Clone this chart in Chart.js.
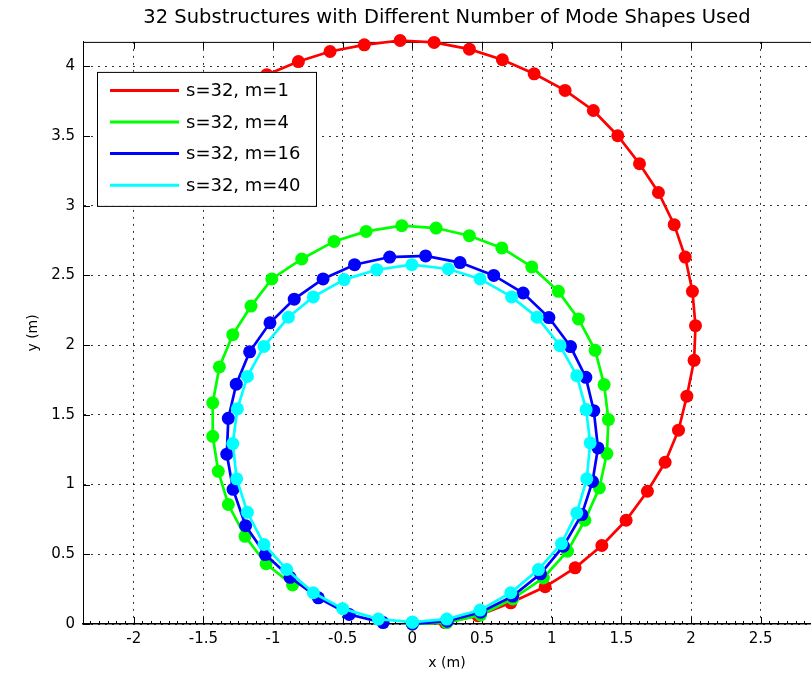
<!DOCTYPE html>
<html>
<head>
<meta charset="utf-8">
<title>Substructure mode shapes</title>
<script src="https://cdn.jsdelivr.net/npm/chart.js@4.4.0/dist/chart.umd.min.js"></script>
<style>
  html, body { margin: 0; padding: 0; background: #fff; overflow: hidden; }
  canvas { display: block; }
</style>
</head>
<body>
<canvas id="modeChart" width="811" height="690"></canvas>
<script>
// node positions of the curled beam (33 nodes, 32 substructures) for each mode count
const seriesLabels = ['s=32, m=1', 's=32, m=4', 's=32, m=16', 's=32, m=40'];
const seriesColors = ['#ff0000', '#00ff00', '#0000ff', '#00ffff'];

const m1X = [0, 0.235, 0.47, 0.706, 0.953, 1.168, 1.36, 1.534, 1.687, 1.814, 1.91, 1.97, 2.022,
  2.032, 2.01, 1.958, 1.879, 1.766, 1.63, 1.474, 1.299, 1.096, 0.874, 0.646, 0.409, 0.156,
  -0.088, -0.345, -0.591, -0.818, -1.045, -1.26, -1.45];
const m1Y = [0, 0.01, 0.06, 0.152, 0.267, 0.403, 0.563, 0.744, 0.952, 1.16, 1.39, 1.634, 1.891,
  2.14, 2.386, 2.632, 2.864, 3.095, 3.301, 3.502, 3.683, 3.827, 3.946, 4.047, 4.123, 4.171,
  4.185, 4.154, 4.106, 4.034, 3.94, 3.81, 3.66];

const m4X = [0, 0.247, 0.49, 0.72, 0.94, 1.113, 1.238, 1.342, 1.396, 1.407, 1.376, 1.312, 1.192,
  1.048, 0.857, 0.642, 0.409, 0.17, -0.076, -0.332, -0.562, -0.794, -1.009, -1.158, -1.289,
  -1.385, -1.433, -1.433, -1.393, -1.321, -1.201, -1.05, -0.86];
const m4Y = [0, 0.01, 0.065, 0.18, 0.33, 0.522, 0.744, 0.976, 1.222, 1.466, 1.717, 1.963, 2.188,
  2.386, 2.561, 2.697, 2.785, 2.84, 2.857, 2.816, 2.744, 2.618, 2.475, 2.28, 2.075,
  1.844, 1.586, 1.346, 1.095, 0.857, 0.629, 0.432, 0.28];

const m16X = [0, 0.25, 0.49, 0.72, 0.92, 1.084, 1.216, 1.293, 1.332, 1.302, 1.245, 1.135, 0.98,
  0.795, 0.584, 0.342, 0.095, -0.163, -0.415, -0.641, -0.848, -1.022, -1.168, -1.264, -1.321,
  -1.332, -1.287, -1.197, -1.055, -0.878, -0.675, -0.453, -0.21];
const m16Y = [0, 0.02, 0.085, 0.2, 0.36, 0.558, 0.785, 1.022, 1.263, 1.53, 1.769, 1.99, 2.198,
  2.374, 2.5, 2.592, 2.64, 2.632, 2.577, 2.475, 2.33, 2.16, 1.952, 1.72, 1.475,
  1.218, 0.966, 0.705, 0.498, 0.335, 0.188, 0.068, 0.01];

const m40X = [0, 0.247, 0.486, 0.706, 0.905, 1.07, 1.18, 1.252, 1.276, 1.247, 1.18, 1.06, 0.895,
  0.712, 0.486, 0.258, -0.004, -0.256, -0.49, -0.711, -0.89, -1.065, -1.184, -1.256, -1.289,
  -1.261, -1.184, -1.065, -0.902, -0.711, -0.5, -0.244, 0];
const m40Y = [0.013, 0.035, 0.1, 0.224, 0.39, 0.577, 0.797, 1.041, 1.299, 1.538, 1.781, 1.996, 2.2,
  2.346, 2.475, 2.546, 2.577, 2.541, 2.47, 2.346, 2.2, 1.991, 1.776, 1.543, 1.294,
  1.041, 0.801, 0.57, 0.391, 0.224, 0.11, 0.035, 0.013];

const xTickValues = [-2, -1.5, -1, -0.5, 0, 0.5, 1, 1.5, 2, 2.5];
const yTickValues = [0, 0.5, 1, 1.5, 2, 2.5, 3, 3.5, 4];
const xRange = [-2.364, 2.861];
const yRange = [0, 4.175];

const seriesX = [m1X, m4X, m16X, m40X];
const seriesY = [m1Y, m4Y, m16Y, m40Y];

Chart.defaults.font.family = '"DejaVu Sans", sans-serif';
Chart.defaults.color = '#000';

// solid top edge plus inward tick marks, like a boxed axes
const axesFrame = {
  id: 'axesFrame',
  beforeDatasetsDraw(chart) {
    const { ctx, chartArea: a, scales: { x, y } } = chart;
    ctx.save();
    ctx.strokeStyle = '#000';
    ctx.lineWidth = 1;
    ctx.beginPath();
    ctx.moveTo(a.left, a.top + 0.5);
    ctx.lineTo(a.right, a.top + 0.5);
    xTickValues.forEach(v => {
      const px = Math.round(x.getPixelForValue(v)) + 0.5;
      ctx.moveTo(px, a.bottom);
      ctx.lineTo(px, a.bottom - 7);
      ctx.moveTo(px, a.top);
      ctx.lineTo(px, a.top + 7);
    });
    yTickValues.forEach(v => {
      const py = Math.round(y.getPixelForValue(v)) + 0.5;
      ctx.moveTo(a.left, py);
      ctx.lineTo(a.left + 7, py);
    });
    // small ticks along the bottom edge
    for (let v = Math.ceil(x.min / 0.0625) * 0.0625; v <= x.max; v += 0.0625) {
      const px = Math.round(x.getPixelForValue(v)) + 0.5;
      ctx.moveTo(px, a.bottom);
      ctx.lineTo(px, a.bottom - 3);
    }
    ctx.stroke();
    ctx.restore();
  }
};

// boxed legend sitting inside the plot, drawn over the lines
const legendBox = {
  id: 'legendBox',
  afterDatasetsDraw(chart) {
    const { ctx, chartArea: a } = chart;
    const bx = a.left + 14, by = a.top + 30, bw = 219, bh = 134;
    ctx.save();
    ctx.fillStyle = '#fff';
    ctx.fillRect(bx, by, bw, bh);
    ctx.strokeStyle = '#000';
    ctx.lineWidth = 1;
    ctx.strokeRect(bx + 0.5, by + 0.5, bw, bh);
    ctx.font = '18px "DejaVu Sans"';
    ctx.textBaseline = 'middle';
    chart.data.datasets.forEach((ds, i) => {
      const rowY = by + 18.5 + i * 31.6;
      ctx.strokeStyle = ds.borderColor;
      ctx.lineWidth = 3;
      ctx.beginPath();
      ctx.moveTo(bx + 13, rowY);
      ctx.lineTo(bx + 82, rowY);
      ctx.stroke();
      ctx.fillStyle = '#000';
      ctx.fillText(ds.label, bx + 89, rowY + 1);
    });
    ctx.restore();
  }
};

const datasets = seriesLabels.map((label, i) => ({
  label: label,
  data: seriesX[i].map((xv, j) => ({ x: xv, y: seriesY[i][j] })),
  borderColor: seriesColors[i],
  backgroundColor: seriesColors[i],
  borderWidth: 2.7,
  pointRadius: 6.5,
  pointBorderWidth: 0,
  pointBackgroundColor: seriesColors[i],
  showLine: true,
  tension: 0,
  clip: false,
  order: seriesLabels.length - i
}));

const axisFont = { family: '"DejaVu Sans", sans-serif', size: 15 };
const titleFont = { family: '"DejaVu Sans", sans-serif', size: 14 };
const plainNumber = v => String(v);

new Chart(document.getElementById('modeChart').getContext('2d'), {
  type: 'scatter',
  data: { datasets: datasets },
  options: {
    responsive: false,
    animation: false,
    devicePixelRatio: 1,
    layout: { padding: 0, autoPadding: false },
    plugins: {
      legend: { display: false },
      tooltip: { enabled: false },
      title: {
        display: true,
        fullSize: false,
        text: '32 Substructures with Different Number of Mode Shapes Used',
        color: '#000',
        font: { family: '"DejaVu Sans", sans-serif', size: 19.5, weight: 'normal' },
        padding: { top: 6, bottom: 12.5 }
      }
    },
    scales: {
      x: {
        type: 'linear',
        min: xRange[0],
        max: xRange[1],
        afterBuildTicks: s => { s.ticks = xTickValues.map(v => ({ value: v })); },
        afterFit: s => { s.height = 66; s.paddingLeft = 0; s.paddingRight = 0; },
        ticks: { font: axisFont, color: '#000', padding: 6, maxRotation: 0, autoSkip: false, callback: plainNumber },
        grid: { color: 'rgba(0,0,0,0.8)', lineWidth: 1, drawTicks: false },
        border: { display: true, color: '#000', width: 1.5, dash: [2, 5] },
        title: { display: true, text: 'x (m)', color: '#000', font: titleFont, padding: { top: 0, bottom: 18 } }
      },
      y: {
        type: 'linear',
        min: yRange[0],
        max: yRange[1],
        afterBuildTicks: s => { s.ticks = yTickValues.map(v => ({ value: v })); },
        afterFit: s => { s.width = 83; s.paddingTop = 0; s.paddingBottom = 0; },
        ticks: { font: axisFont, color: '#000', padding: 8, autoSkip: false, callback: plainNumber },
        grid: { color: 'rgba(0,0,0,0.8)', lineWidth: 1, drawTicks: false },
        border: { display: true, color: '#000', width: 1, dash: [2, 5] },
        title: { display: true, text: 'y (m)', color: '#000', font: titleFont, padding: { top: 25, bottom: 0 } }
      }
    }
  },
  plugins: [axesFrame, legendBox]
});
</script>
</body>
</html>
